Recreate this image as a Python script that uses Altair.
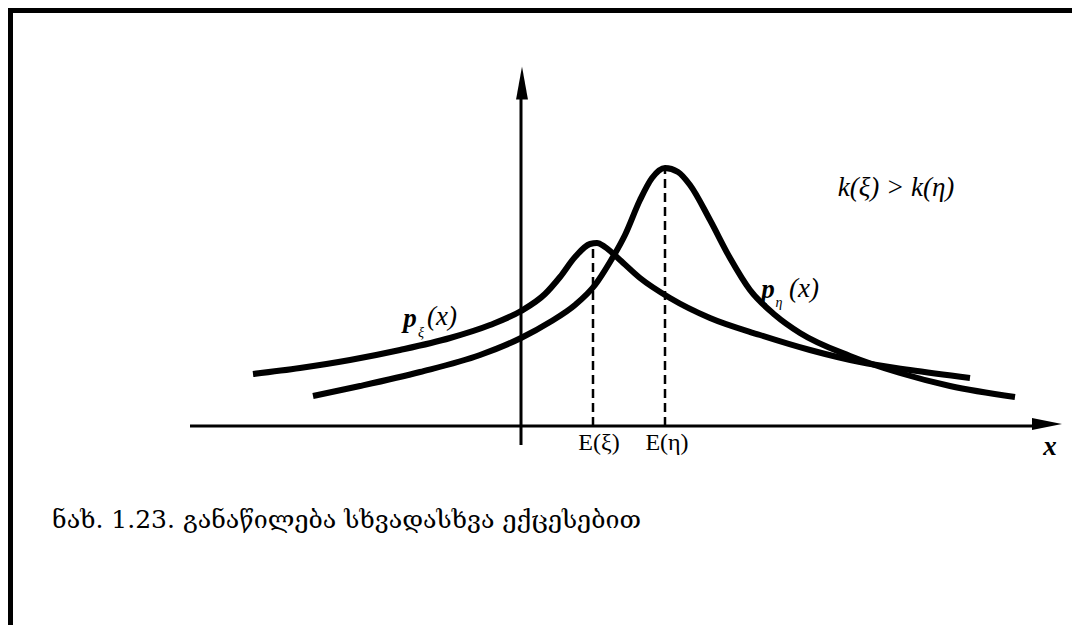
import altair as alt
import pandas as pd

# Figure units: vertical axis at x = 0, horizontal axis at y = 0
xi_x = [-2.68, -2.21, -1.71, -1.21, -0.71, -0.31, 0.0, 0.24, 0.39, 0.54, 0.69, 0.76,
        0.84, 0.99, 1.19, 1.49, 1.89, 2.39, 2.89, 3.39, 3.89, 4.49]
xi_y = [0.52, 0.58, 0.66, 0.76, 0.88, 1.01, 1.15, 1.32, 1.49, 1.69, 1.82, 1.83,
        1.79, 1.66, 1.48, 1.28, 1.08, 0.91, 0.76, 0.64, 0.56, 0.48]

eta_x = [-2.08, -1.61, -1.01, -0.41, 0.0, 0.29, 0.54, 0.74, 0.89, 1.04, 1.19, 1.31,
         1.44, 1.57, 1.69, 1.89, 2.09, 2.29, 2.54, 2.79, 3.29, 3.79, 4.29, 4.94]
eta_y = [0.30, 0.40, 0.54, 0.71, 0.88, 1.04, 1.21, 1.41, 1.64, 1.91, 2.26, 2.48,
         2.58, 2.54, 2.41, 2.06, 1.68, 1.36, 1.11, 0.93, 0.70, 0.53, 0.40, 0.29]

mean_xi, peak_xi = 0.72, 1.83
mean_eta, peak_eta = 1.44, 2.58

x_axis_span = [-3.31, 5.19]
y_axis_span = [-0.19, 3.36]

caption = "ნახ. 1.23. განაწილება სხვადასხვა ექცესებით"

XD = [-5.13, 5.51]
YD = [-1.99, 4.18]

xs = alt.Scale(domain=XD, nice=False, zero=False)
ys = alt.Scale(domain=YD, nice=False, zero=False)


def X(f="x"):
    return alt.X(f"{f}:Q", scale=xs, axis=None)


def Y(f="y"):
    return alt.Y(f"{f}:Q", scale=ys, axis=None)


curves = pd.concat([
    pd.DataFrame({"x": xi_x, "y": xi_y, "s": "xi", "o": range(len(xi_x))}),
    pd.DataFrame({"x": eta_x, "y": eta_y, "s": "eta", "o": range(len(eta_x))}),
])

curve_layer = alt.Chart(curves).mark_line(
    color="black", strokeWidth=6, interpolate="monotone", strokeCap="butt"
).encode(x=X(), y=Y(), detail="s:N", order="o:Q")

axes_df = pd.DataFrame({
    "x": [x_axis_span[0], 0.0], "x2": [x_axis_span[1], 0.0],
    "y": [0.0, y_axis_span[0]], "y2": [0.0, y_axis_span[1]],
})
axes_layer = alt.Chart(axes_df).mark_rule(color="black", strokeWidth=3).encode(
    x=X(), x2="x2:Q", y=Y(), y2="y2:Q")

dash_df = pd.DataFrame({"x": [mean_xi, mean_eta], "y": [0.0, 0.0],
                        "y2": [peak_xi, peak_eta]})
dash_layer = alt.Chart(dash_df).mark_rule(
    color="black", strokeWidth=2.5, strokeDash=[9, 5]).encode(
    x=X(), y=Y(), y2="y2:Q")

up_head = alt.Chart(pd.DataFrame({"x": [0.01], "y": [3.43]})).mark_point(
    shape="M0,-1L0.36,1L-0.36,1Z", size=1089, filled=True, color="black", opacity=1
).encode(x=X(), y=Y())

right_head = alt.Chart(pd.DataFrame({"x": [5.26], "y": [0.02]})).mark_point(
    shape="M1,0L-1,-0.4L-1,0.4Z", size=900, filled=True, color="black", opacity=1
).encode(x=X(), y=Y())

SERIF = "Liberation Serif"


def label(df, size, style="normal", weight="normal", align="center", font=SERIF):
    return alt.Chart(pd.DataFrame(df)).mark_text(
        fontSize=size, fontStyle=style, fontWeight=weight, font=font,
        align=align, baseline="middle", color="black"
    ).encode(x=X(), y=Y(), text="t:N")


p_labels = label({"x": [-1.11, 2.47], "y": [1.07, 1.36], "t": ["p", "p"]}, 27, "italic", "bold")
subs = label({"x": [-1.00, 2.58], "y": [0.93, 1.23], "t": ["ξ", "η"]}, 14, "italic")
args = label({"x": [-0.79, 2.83], "y": [1.09, 1.37], "t": ["(x)", "(x)"]}, 27, "italic")
k_label = label({"x": [3.75], "y": [2.38], "t": ["k(ξ) > k(η)"]}, 27, "italic")
e_labels = label({"x": [0.78, 1.46], "y": [-0.17, -0.17], "t": ["E(ξ)", "E(η)"]}, 24)
x_label = label({"x": [5.29], "y": [-0.21], "t": ["x"]}, 27, "italic", "bold")
cap = label({"x": [-4.69], "y": [-0.94], "t": [caption]}, 25, align="left",
            font="DejaVu Serif")

frame_top = alt.Chart(pd.DataFrame({"a": [0]})).mark_rule(
    color="black", strokeWidth=7).encode(
    x=alt.value(0), x2=alt.value(1064), y=alt.value(1.5))
frame_left = alt.Chart(pd.DataFrame({"a": [0]})).mark_rule(
    color="black", strokeWidth=8).encode(
    x=alt.value(1), y=alt.value(0), y2=alt.value(617))

chart = alt.layer(
    frame_top, frame_left, axes_layer, dash_layer, curve_layer, up_head, right_head,
    p_labels, subs, args, k_label, e_labels, x_label, cap
).properties(
    width=1064, height=617, padding=0,
    autosize=alt.AutoSizeParams(type="none"),
    background="white"
).configure_view(stroke=None)

chart.save("out.html", embed_options={"renderer": "svg", "actions": False})
